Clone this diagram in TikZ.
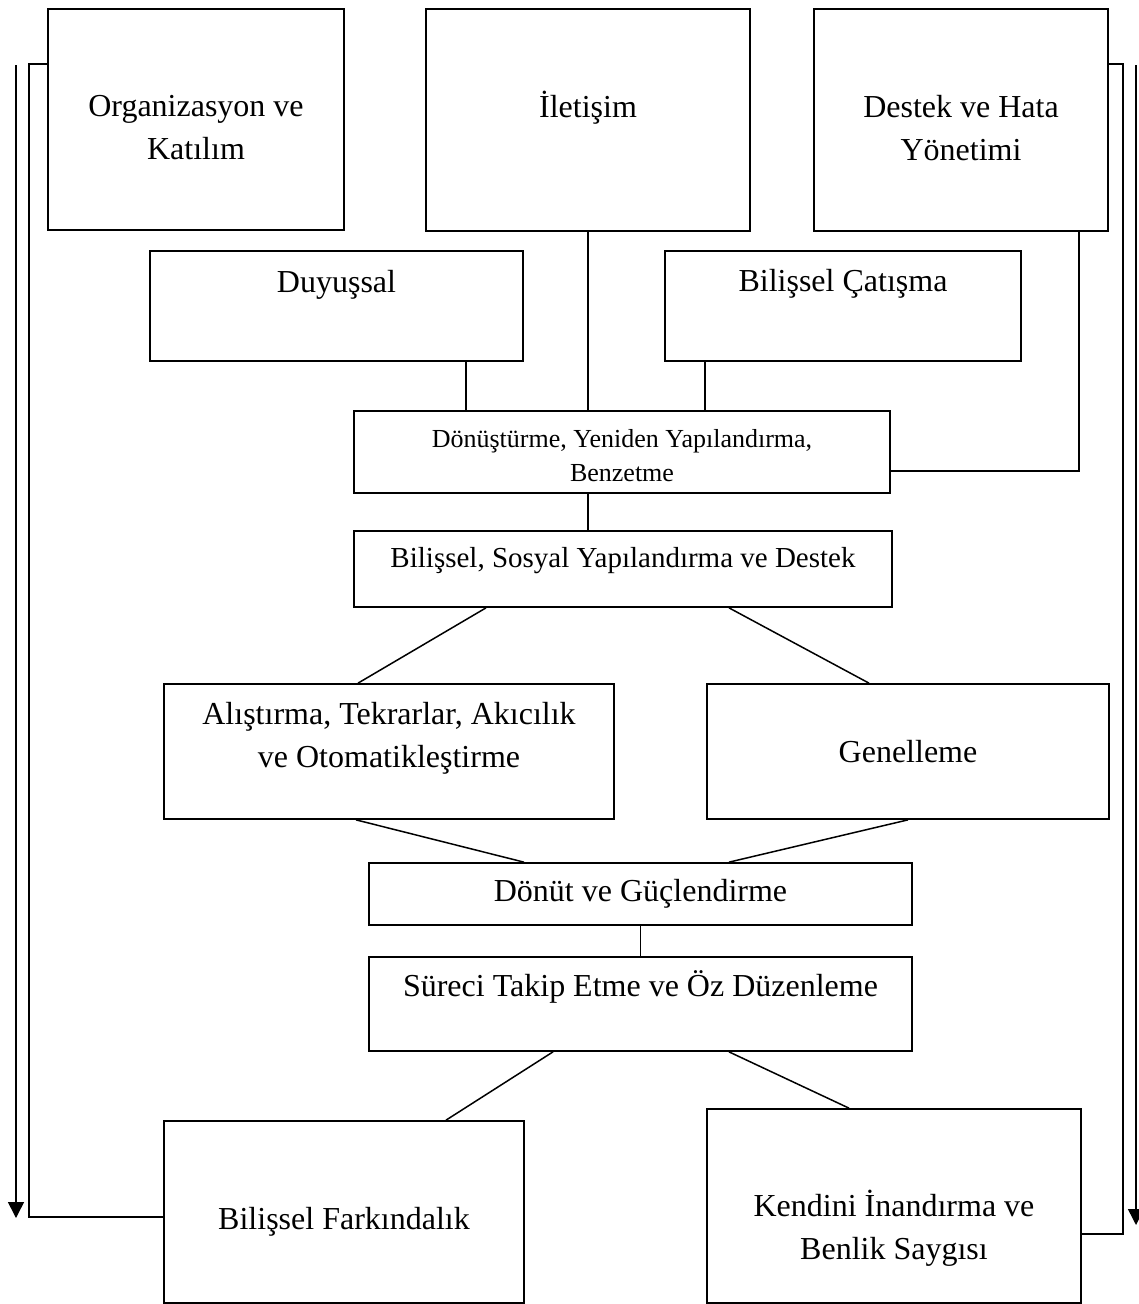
\documentclass[tikz,border=0pt]{standalone}
\usepackage{fontspec}
\setmainfont{Liberation Serif}
\usetikzlibrary{arrows.meta}

\begin{document}
\begin{tikzpicture}[
    x=1pt,y=-1pt,
    box/.style={draw,line width=1.7pt,inner sep=0pt},
    txt/.style={align=center,inner sep=0pt,font=\fontsize{32}{43}\selectfont},
    link/.style={line width=1.5pt},
    arrow/.style={link,-{Triangle[width=16pt,length=16pt]}}]
    \useasboundingbox (0,0) rectangle (1139,1304);
    % boxes
    \node[box,minimum width=296pt,minimum height=221pt] (organization) at (196,119.5) {};
    \node[box,minimum width=324pt,minimum height=222pt] (communication) at (588,120) {};
    \node[box,minimum width=294pt,minimum height=222pt] (support) at (961,120) {};
    \node[box,minimum width=373pt,minimum height=110pt] (affective) at (336.5,306) {};
    \node[box,minimum width=356pt,minimum height=110pt] (conflict) at (843,306) {};
    \node[box,minimum width=536pt,minimum height=82pt] (transform) at (622,452) {};
    \node[box,minimum width=538pt,minimum height=76pt] (scaffold) at (623,569) {};
    \node[box,minimum width=450pt,minimum height=135pt] (practice) at (389,751.5) {};
    \node[box,minimum width=402pt,minimum height=135pt] (generalize) at (908,751.5) {};
    \node[box,minimum width=543pt,minimum height=62pt] (feedback) at (640.5,894) {};
    \node[box,minimum width=543pt,minimum height=94pt] (monitor) at (640.5,1004) {};
    \node[box,minimum width=360pt,minimum height=182pt] (awareness) at (344,1212) {};
    \node[box,minimum width=374pt,minimum height=194pt] (selfbelief) at (894,1206) {};
    % texts
    \node[txt] (organization-t) at ([yshift=-8pt]organization.center) {Organizasyon ve\\Katılım};
    \node[txt] (communication-t) at ([yshift=12.5pt]communication.center) {İletişim};
    \node[txt] (support-t) at ([yshift=-8.5pt]support.center) {Destek ve Hata\\Yönetimi};
    \node[txt] (affective-t) at ([yshift=21.5pt]affective.center) {Duyuşsal};
    \node[txt] (conflict-t) at ([yshift=22pt]conflict.center) {Bilişsel Çatışma};
    \node[txt,font=\fontsize{26}{34}\selectfont] (transform-t) at ([yshift=-3.5pt]transform.center) {Dönüştürme, Yeniden Yapılandırma,\\Benzetme};
    \node[txt,font=\fontsize{29}{40}\selectfont] (scaffold-t) at ([yshift=8pt]scaffold.center) {Bilişsel, Sosyal Yapılandırma ve Destek};
    \node[txt] (practice-t) at ([yshift=13.5pt]practice.center) {Alıştırma, Tekrarlar, Akıcılık\\ve Otomatikleştirme};
    \node[txt] (generalize-t) at (generalize.center) {Genelleme};
    \node[txt] (feedback-t) at (feedback.center) {Dönüt ve Güçlendirme};
    \node[txt] (monitor-t) at ([yshift=17pt]monitor.center) {Süreci Takip Etme ve Öz Düzenleme};
    \node[txt] (awareness-t) at ([yshift=-10pt]awareness.center) {Bilişsel Farkındalık};
    \node[txt] (selfbelief-t) at ([yshift=-22.5pt]selfbelief.center) {Kendini İnandırma ve\\Benlik Saygısı};
    % outer arrows
    \coordinate (leftTop) at (16,65);
    \coordinate (leftEnd) at (16,1218);
    \coordinate (rightTop) at (1136,65);
    \coordinate (rightEnd) at (1136,1225);
    \draw[arrow] (leftTop) -- (leftEnd);
    \draw[arrow] (rightTop) -- (rightEnd);
    % connectors
    \draw[link] ([yshift=-56pt]organization.north west) -- ++(-18,0) |- (awareness.west |- 0,1217);
    \draw[link] ([yshift=-56pt]support.north east) -- ++(14,0) |- (selfbelief.east |- 0,1234);
    \draw[link] (support.south -| 1079,0) |- (transform.east |- 0,471);
    \draw[link] (affective.south -| 466,0) -- (transform.north -| 466,0);
    \draw[link] (communication.south) -- (communication.south |- transform.north);
    \draw[link] (conflict.south -| 705,0) -- (transform.north -| 705,0);
    \draw[link] (transform.south -| communication.south) -- (scaffold.north -| communication.south);
    \draw[link] (scaffold.south -| 486,0) -- (practice.north -| 358,0);
    \draw[link] (scaffold.south -| 729,0) -- (generalize.north -| 869,0);
    \draw[link] (practice.south -| 356,0) -- (feedback.north -| 524,0);
    \draw[link] (generalize.south) -- (feedback.north -| 729,0);
    \draw[link] (feedback) -- (monitor);
    \draw[link] (monitor.south -| 553,0) -- (awareness.north -| 446,0);
    \draw[link] (monitor.south -| 729,0) -- (selfbelief.north -| 849,0);
  \end{tikzpicture}
\end{document}
